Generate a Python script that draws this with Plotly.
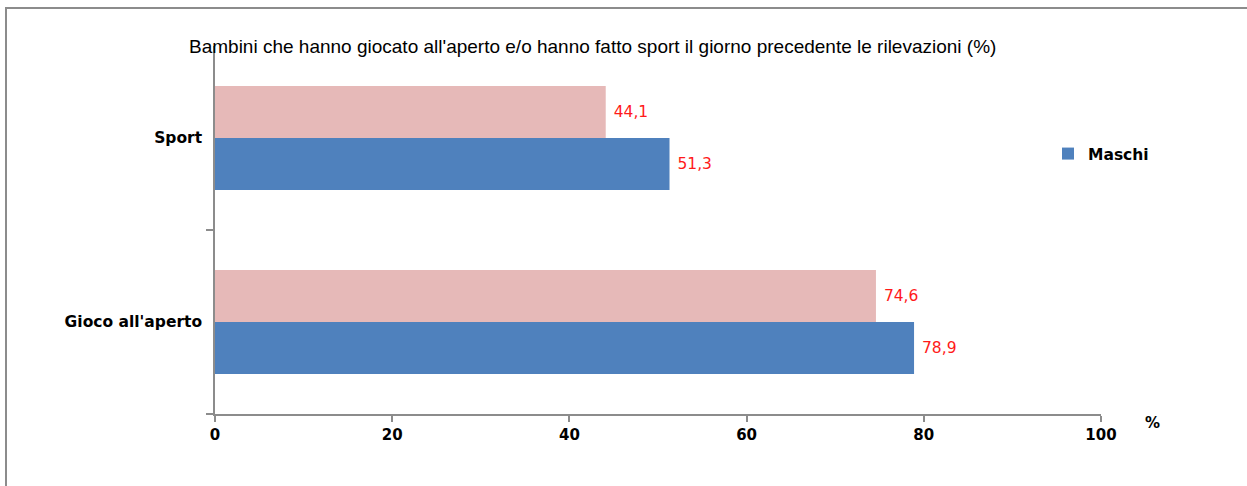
import plotly.graph_objects as go

categories = ["Gioco all'aperto", "Sport"]
maschi = [78.9, 51.3]
femmine = [74.6, 44.1]
x_ticks = [0, 20, 40, 60, 80, 100]
title_text = "Bambini che hanno giocato all'aperto e/o hanno fatto sport il giorno precedente le rilevazioni (%)"

def fmt(v):
    return f"{v:.1f}".replace(".", ",")

W, H = 1247, 486
L, R, T, B = 215, 146, 46, 72
pw, ph = W - L - R, H - T - B

label_font = dict(family="DejaVu Sans", size=15.5, color="#FF1A1A")

fig = go.Figure()
fig.add_trace(go.Bar(
    y=categories, x=maschi, orientation="h", name="Maschi",
    marker=dict(color="#4F81BD", line=dict(width=0)),
    text=[fmt(v) for v in maschi], texttemplate=" %{text}", textposition="outside",
    textfont=label_font, cliponaxis=False,
))
fig.add_trace(go.Bar(
    y=categories, x=femmine, orientation="h", name="Femmine",
    marker=dict(color="#E6B9B8", line=dict(width=0)),
    text=[fmt(v) for v in femmine], texttemplate=" %{text}", textposition="outside",
    textfont=label_font, cliponaxis=False, showlegend=False,
))

fig.update_layout(
    width=W, height=H,
    margin=dict(l=L, r=R, t=T, b=B),
    paper_bgcolor="white", plot_bgcolor="white",
    barmode="group", bargap=0.435, bargroupgap=0,
    font=dict(family="DejaVu Sans", color="black"),
    showlegend=True,
    legend=dict(
        x=(1048 - L) / pw, y=(414 - 154) / ph, xanchor="left", yanchor="middle",
        font=dict(family="DejaVu Sans", size=15.5, color="black", weight="bold"),
        bgcolor="rgba(0,0,0,0)", itemwidth=30,
    ),
)

fig.update_xaxes(
    range=[0, 100], tickvals=x_ticks, ticktext=[str(t) for t in x_ticks],
    showgrid=False, zeroline=False,
    showline=True, linecolor="#8C8C8C", linewidth=1.5,
    ticks="outside", ticklen=6, tickcolor="#8C8C8C", tickwidth=1.5,
    tickfont=dict(family="DejaVu Sans", size=15, color="black", weight="bold"),
    fixedrange=True,
)
fig.update_yaxes(
    categoryorder="array", categoryarray=categories,
    range=[-0.5, 1.5],
    showgrid=False, zeroline=False,
    showline=True, linecolor="#8C8C8C", linewidth=1.5,
    ticks="outside", ticklen=7, tickcolor="#8C8C8C", tickwidth=1.5,
    tickson="boundaries",
    tickfont=dict(family="DejaVu Sans", size=15.5, color="black", weight="bold"),
    ticklabelstandoff=8,
)

# title
fig.add_annotation(
    text=title_text, xref="paper", yref="paper",
    x=(592 - L) / pw, y=(414 - 46) / ph, xanchor="center", yanchor="middle",
    showarrow=False,
    font=dict(family="Liberation Sans", size=19, color="black"),
)
# % unit label
fig.add_annotation(
    text="%", xref="paper", yref="paper",
    x=(1152 - L) / pw, y=(414 - 423) / ph, xanchor="center", yanchor="middle",
    showarrow=False,
    font=dict(family="DejaVu Sans", size=15, color="black", weight="bold"),
)
# outer chart-area border (top and left visible)
fig.add_shape(
    type="rect", xref="paper", yref="paper",
    x0=(6 - L) / pw, x1=1.5, y0=-0.6, y1=(414 - 8) / ph,
    line=dict(color="#8C8C8C", width=2), fillcolor="rgba(0,0,0,0)", layer="below",
)
# hide the tick at the top category boundary (not present in reference)
fig.add_shape(
    type="line", xref="paper", yref="paper",
    x0=-9 / pw, x1=-2 / pw, y0=1, y1=1,
    line=dict(color="white", width=3), layer="above",
)

fig.write_html("out.html")
